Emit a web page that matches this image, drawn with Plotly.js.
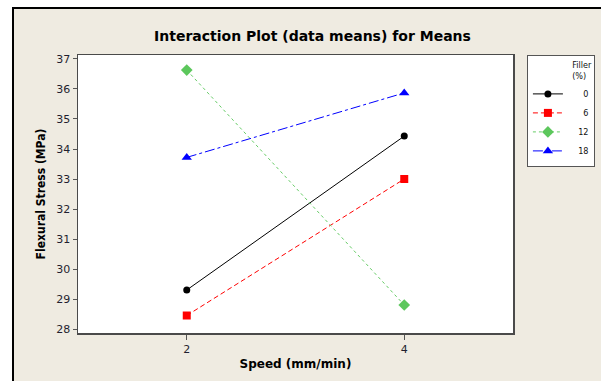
<!DOCTYPE html>
<html>
<head>
<meta charset="utf-8">
<script src="https://cdn.plot.ly/plotly-3.0.1.min.js"></script>
<style>
  html, body { margin: 0; padding: 0; background: #ffffff; }
  #wrap { position: relative; width: 601px; height: 381px; overflow: hidden; }
  #frame { position: absolute; left: 12px; top: 7px; right: 0; bottom: 0;
           background: #EFEBE1; border-left: 2px solid #000; border-top: 2px solid #000; }
  #chart { position: absolute; left: 0; top: 0; width: 601px; height: 381px; }
</style>
</head>
<body>
<div id="wrap">
  <div id="frame"></div>
  <div id="chart"></div>
</div>
<script>
// Data
const speed = [2, 4];
const fillerLevels = ["0", "6", "12", "18"];
const means0  = [29.30, 34.43];
const means6  = [28.45, 33.00];
const means12 = [36.63, 28.80];
const means18 = [33.72, 35.87];
const yTicks = [28, 29, 30, 31, 32, 33, 34, 35, 36, 37];
const xTicks = [2, 4];

const series = [means0, means6, means12, means18];
const colors = ["#000000", "#FF0000", "#66CC66", "#0000FF"];
const markerColors = ["#000000", "#FF0000", "#5CC75C", "#0000FF"];
const symbols = ["circle", "square", "diamond", "triangle-up"];
const sizes = [7, 8, 9, 9];
const dashes = ["solid", "5px,3px", "3px,3px", "10px,3px,3px,3px"];
const pads = ["\u2007\u2007\u2007", "\u2007\u2007\u2007", "\u2007\u2007", "\u2007\u2007"];

const traces = series.map((ys, i) => ({
  x: speed,
  y: ys,
  type: "scatter",
  mode: "lines+markers",
  name: pads[i] + fillerLevels[i],
  line: { color: colors[i], width: 1, dash: dashes[i] },
  marker: { color: markerColors[i], symbol: symbols[i], size: sizes[i] }
}));

const layout = {
  width: 601, height: 381,
  margin: { l: 78, r: 88, t: 55, b: 48, autoexpand: false },
  paper_bgcolor: "rgba(0,0,0,0)",
  plot_bgcolor: "#FFFFFF",
  font: { family: "DejaVu Sans", color: "#1f1f2f" },
  title: {
    text: "Interaction Plot (data means) for Means",
    font: { family: "DejaVu Sans", size: 14, color: "#000000", weight: "bold" },
    x: 0.539, xanchor: "center", y: 0.905, yanchor: "middle", xref: "paper", yref: "container"
  },
  xaxis: {
    range: [1, 5],
    tickvals: xTicks,
    ticktext: xTicks.map(String),
    ticks: "outside", ticklen: 5, tickcolor: "#555555", tickwidth: 1,
    showgrid: false, zeroline: false,
    showline: true, mirror: true, linecolor: "#4a4a4a", linewidth: 1.5,
    tickfont: { family: "DejaVu Sans", size: 11, color: "#1f1f2f" },
    title: { text: "Speed (mm/min)", font: { family: "DejaVu Sans", size: 12, color: "#000000", weight: "bold" }, standoff: 5 }
  },
  yaxis: {
    range: [27.867, 37.133],
    tickvals: yTicks,
    ticks: "outside", ticklen: 4, tickcolor: "#555555", tickwidth: 1,
    showgrid: false, zeroline: false,
    showline: true, mirror: true, linecolor: "#4a4a4a", linewidth: 1.5,
    tickfont: { family: "DejaVu Sans", size: 11, color: "#1f1f2f" },
    title: { text: "Flexural Stress (MPa)", font: { family: "DejaVu Sans Condensed", size: 12, color: "#000000", weight: "bold" }, standoff: 8 }
  },
  showlegend: true,
  legend: {
    x: 1.032, xanchor: "left", y: 1, yanchor: "top",
    bgcolor: "#FFFFFF", bordercolor: "#555555", borderwidth: 1,
    font: { family: "DejaVu Sans Condensed", size: 9, color: "#111111" },
    title: { text: "Filler<br>(%)", side: "top right", font: { family: "DejaVu Sans Condensed", size: 9, color: "#111111" } },
    itemwidth: 30,
    tracegroupgap: 0
  }
};

Plotly.newPlot("chart", traces, layout, { displayModeBar: false, staticPlot: true });
</script>
</body>
</html>
